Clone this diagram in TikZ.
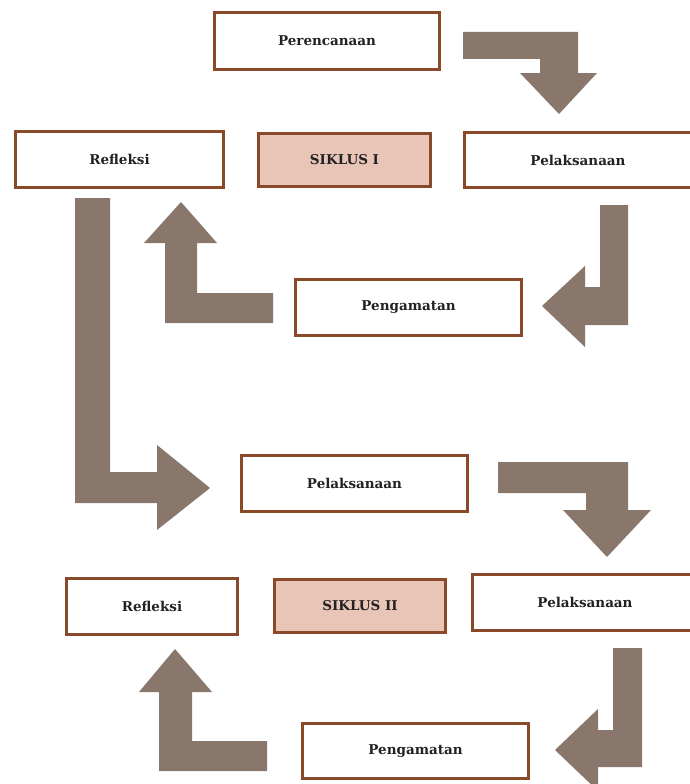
\documentclass[tikz,border=0pt]{standalone}
\usepackage{fontspec}
\setmainfont{DejaVu Serif}
\definecolor{boxborder}{HTML}{8A4A2A}
\definecolor{arrowfill}{HTML}{8A776C}
\definecolor{siklusfill}{HTML}{E9C5B8}
\definecolor{txt}{HTML}{222222}
\begin{document}
\begin{tikzpicture}[x=1pt,y=-1pt,
  box/.style={draw=boxborder, line width=3.2pt, fill=white, inner sep=0pt,
    text=txt, font=\fontsize{13.5}{16}\selectfont\bfseries},
  siklus/.style={box, fill=siklusfill, font=\fontsize{13.5}{16}\selectfont\bfseries},
  blockarrow/.style={fill=arrowfill, draw=none}]
\useasboundingbox (0,0) rectangle (689,784);
\fill[white] (0,0) rectangle (689,784);

% boxes
\node[box, minimum width=225pt, minimum height=57pt] (per) at (327,41) {Perencanaan};
\node[box, minimum width=208pt, minimum height=56pt] (ref1) at (119.5,159.5) {Refleksi};
\node[siklus, minimum width=172pt, minimum height=53pt] (sik1) at (344.5,160) {SIKLUS I};
\node[box, minimum width=227pt, minimum height=55pt] (pel1) at (578,160) {Pelaksanaan};
\node[box, minimum width=226pt, minimum height=56pt] (pen1) at (408.5,307.5) {Pengamatan};
\node[box, minimum width=226pt, minimum height=56pt] (pel2) at (354.5,483.5) {Pelaksanaan};
\node[box, minimum width=171pt, minimum height=56pt] (ref2) at (152,606.5) {Refleksi};
\node[siklus, minimum width=171pt, minimum height=53pt] (sik2) at (360,606) {SIKLUS II};
\node[box, minimum width=225pt, minimum height=56pt] (pel3) at (585,602.5) {Pelaksanaan};
\node[box, minimum width=226pt, minimum height=55pt] (pen2) at (415.5,751) {Pengamatan};

% block arrows
% Perencanaan -> Pelaksanaan
\fill[blockarrow] (463,32) -- (578,32) -- (578,73) -- (597,73) -- (559,114) -- (520,73) -- (540,73) -- (540,59) -- (463,59) -- cycle;
% Pelaksanaan -> Pengamatan
\fill[blockarrow] (600,205) -- (628,205) -- (628,325) -- (585,325) -- (585,347) -- (542,306) -- (585,266) -- (585,287) -- (600,287) -- cycle;
% Pengamatan -> Refleksi
\fill[blockarrow] (273,293) -- (273,323) -- (165,323) -- (165,243) -- (144,243) -- (181,202) -- (217,243) -- (197,243) -- (197,293) -- cycle;
% Refleksi -> Pelaksanaan (cycle II)
\fill[blockarrow] (75,198) -- (110,198) -- (110,472) -- (157,472) -- (157,445) -- (210,488) -- (157,530) -- (157,503) -- (75,503) -- cycle;
% Pelaksanaan -> Pelaksanaan
\fill[blockarrow] (498,462) -- (628,462) -- (628,510) -- (651,510) -- (607,557) -- (563,510) -- (586,510) -- (586,493) -- (498,493) -- cycle;
% Pelaksanaan -> Pengamatan
\fill[blockarrow] (613,648) -- (642,648) -- (642,767) -- (598,767) -- (598,791) -- (555,750) -- (598,709) -- (598,730) -- (613,730) -- cycle;
% Pengamatan -> Refleksi
\fill[blockarrow] (267,741) -- (267,771) -- (159,771) -- (159,692) -- (139,692) -- (175,649) -- (212,692) -- (192,692) -- (192,741) -- cycle;
\end{tikzpicture}
\end{document}
